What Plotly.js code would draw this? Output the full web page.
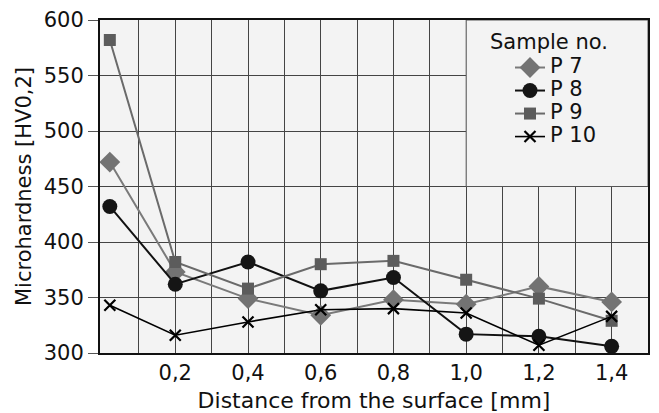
<!DOCTYPE html>
<html><head><meta charset="utf-8">
<script src="https://cdn.plot.ly/plotly-3.0.1.min.js"></script>
<style>html,body{margin:0;padding:0;background:#fff}#chart{width:659px;height:413px}</style>
</head><body><div id="chart"></div>
<script>
const xVals = [0.02, 0.2, 0.4, 0.6, 0.8, 1.0, 1.2, 1.4];
const p7  = [472, 373, 349, 334, 348, 344, 360, 346];
const p8  = [432, 362, 382, 356, 368, 317, 315, 306];
const p9  = [582, 382, 358, 380, 383, 366, 349, 329];
const p10 = [343, 316, 328, 339, 340, 336, 307, 333];
const seriesNames = ['P 7', 'P 8', 'P 9', 'P 10'];
const legendTitle = 'Sample no.';
const xTickVals = [0.1, 0.2, 0.3, 0.4, 0.5, 0.6, 0.7, 0.8, 0.9, 1.0, 1.1, 1.2, 1.3, 1.4];
const xTickText = ['', '0,2', '', '0,4', '', '0,6', '', '0,8', '', '1,0', '', '1,2', '', '1,4'];
const yTickVals = [300, 350, 400, 450, 500, 550, 600];

const font = 'DejaVu Sans, sans-serif';
const H = 333, T = 20; // plot height / top margin (px) for legend placement
const py = p => 1 - (p - T) / H;
const px = p => (p - 100) / 548;

const styles = [
  {line: {color: '#7a7a7a', width: 2}, marker: {symbol: 'diamond', size: 16, color: '#737373'}},
  {line: {color: '#111', width: 2}, marker: {symbol: 'circle', size: 15, color: '#151515'}},
  {line: {color: '#6a6a6a', width: 2}, marker: {symbol: 'square', size: 12, color: '#5c5c5c'}},
  {line: {color: '#000', width: 1.6}, marker: {symbol: 'x-thin', size: 11, color: '#000', line: {width: 2.2, color: '#000'}}}
];
const data = [p7, p8, p9, p10];
const traces = data.map((y, i) => Object.assign({x: xVals, y: y, name: ' ', mode: 'lines+markers', legendrank: i}, styles[i]));

const annotations = [{text: legendTitle, xref: 'paper', yref: 'paper', x: px(488), y: py(42),
                 xanchor: 'left', yanchor: 'middle', showarrow: false, font: {size: 21, family: font, color: '#111'}}];
seriesNames.forEach((n, i) => annotations.push({text: n, xref: 'paper', yref: 'paper', x: px(548), y: py(66 + 23 * i),
  xanchor: 'left', yanchor: 'middle', showarrow: false, font: {size: 21, family: font, color: '#111'}}));

const layout = {
  width: 659, height: 413,
  margin: {l: 100, r: 11, t: 20, b: 60},
  paper_bgcolor: '#ffffff', plot_bgcolor: '#f3f3f3',
  font: {family: font, color: '#111', size: 21},
  showlegend: true,
  legend: {x: px(510), y: py(51), xanchor: 'left', yanchor: 'top', bgcolor: 'rgba(0,0,0,0)',
           font: {size: 15.4, family: font, color: '#111'}, itemwidth: 30, traceorder: 'normal'},
  xaxis: {range: [-0.007, 1.5], tickvals: xTickVals, ticktext: xTickText,
          showgrid: true, gridcolor: '#444', gridwidth: 1, zeroline: false,
          showline: true, linecolor: '#111', linewidth: 2, mirror: true, ticks: '',
          tickfont: {size: 21, family: font}, title: {text: 'Distance from the surface [mm]', font: {size: 22, family: font}, standoff: 9}},
  yaxis: {range: [300, 600], tickvals: yTickVals,
          showgrid: true, gridcolor: '#444', gridwidth: 1, zeroline: false,
          showline: true, linecolor: '#111', linewidth: 2, mirror: true, ticks: 'outside', ticklen: 10, tickcolor: '#555',
          tickfont: {size: 21, family: font}, title: {text: 'Microhardness [HV0,2]', font: {size: 21, family: font}, standoff: 6}},
  shapes: [{type: 'rect', xref: 'x', yref: 'y', x0: 1.0, x1: 1.5, y0: 450, y1: 600,
            fillcolor: '#f3f3f3', line: {color: '#555', width: 1}, layer: 'between'}],
  annotations: annotations
};
Plotly.newPlot('chart', traces, layout, {displayModeBar: false, staticPlot: true});
</script></body></html>
